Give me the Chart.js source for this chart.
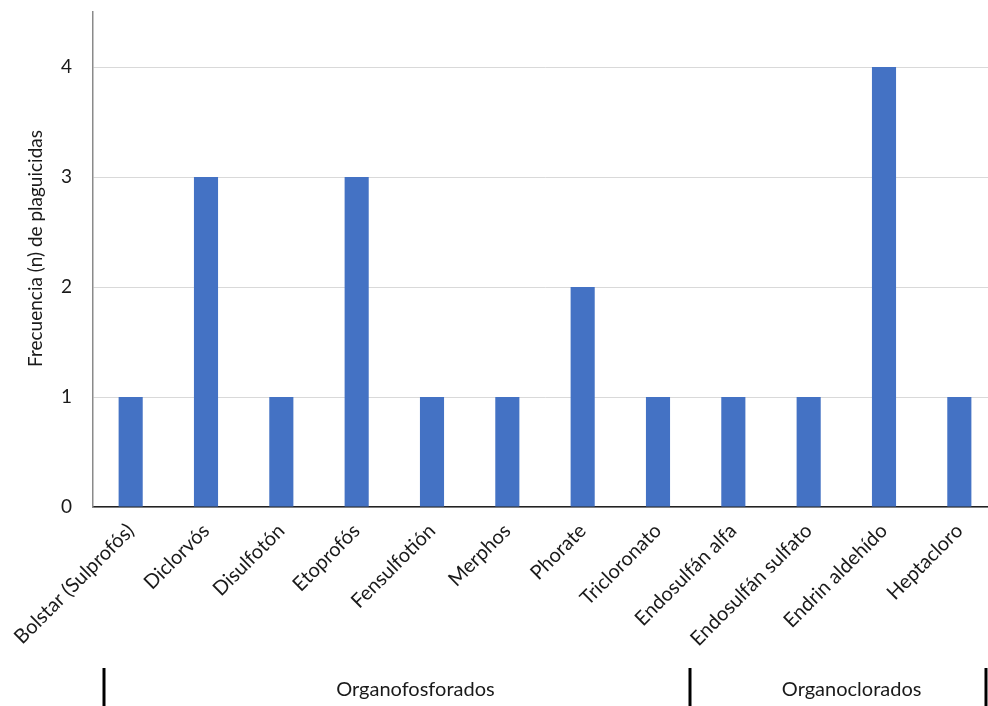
<!DOCTYPE html>
<html>
<head>
<meta charset="utf-8">
<script src="https://cdn.jsdelivr.net/npm/chart.js@4.4.1/dist/chart.umd.min.js"></script>
<style>
    html, body { margin: 0; padding: 0; overflow: hidden; background: #fff; }
    #wrap { width: 1000px; height: 706px; position: relative; }
</style>
</head>
<body>
<div id="wrap"><canvas id="Plaguicidas"></canvas></div>
<script>
const categories = [
    'Bolstar (Sulprofós)', 'Diclorvós', 'Disulfotón', 'Etoprofós', 'Fensulfotión', 'Merphos',
    'Phorate', 'Tricloronato', 'Endosulfán alfa', 'Endosulfán sulfato', 'Endrin aldehído', 'Heptacloro'
];
const frecuencia = [1, 3, 1, 3, 1, 1, 2, 1, 1, 1, 4, 1];
const yTicks = [0, 1, 2, 3, 4];
const yTitle = 'Frecuencia (n) de plaguicidas';
const groupNames = ['Organofosforados', 'Organoclorados'];
const groupSizes = [8, 4];

const FONT = 'Lato, "Open Sans", sans-serif';
const TEXT = '#1a1a1a';

// draws the y title and the second level of the category axis (group names + separators)
const groupAxis = {
    id: 'groupAxis',
    afterDraw(chart) {
        const ctx = chart.ctx;
        const x = chart.scales.x;
        const area = chart.chartArea;
        const bottom = area.bottom;

        ctx.save();
        ctx.fillStyle = TEXT;
        ctx.font = '19px ' + FONT;
        ctx.textAlign = 'center';
        ctx.textBaseline = 'middle';
        ctx.translate(36, (area.top + area.bottom) / 2 - 11);
        ctx.rotate(-Math.PI / 2);
        ctx.fillText(yTitle, 0, 0);
        ctx.restore();

        // separators sit a bit inside the category edges, like the original
        const edges = [-0.35];
        let n = 0;
        for (let i = 0; i < groupSizes.length; i++) {
            n += groupSizes[i];
            edges.push(n - 0.57 + (i === groupSizes.length - 1 ? -0.08 : 0));
        }
        ctx.save();
        ctx.strokeStyle = '#000';
        ctx.lineWidth = 3;
        for (const e of edges) {
            const px = Math.round(x.getPixelForValue(e));
            ctx.beginPath();
            ctx.moveTo(px, bottom + 161);
            ctx.lineTo(px, bottom + 200);
            ctx.stroke();
        }
        ctx.fillStyle = TEXT;
        ctx.font = '20px ' + FONT;
        ctx.textAlign = 'center';
        ctx.textBaseline = 'middle';
        const centers = [3.78, 9.57];
        for (let i = 0; i < groupNames.length; i++) {
            ctx.fillText(groupNames[i], x.getPixelForValue(centers[i]), bottom + 183);
        }
        ctx.restore();
    }
};

new Chart(document.getElementById('Plaguicidas'), {
    type: 'bar',
    data: {
        labels: categories,
        datasets: [{
            label: 'Frecuencia',
            data: frecuencia,
            backgroundColor: '#4472C4',
            categoryPercentage: 1,
            barPercentage: 0.32,
        }]
    },
    plugins: [groupAxis],
    options: {
        responsive: true,
        maintainAspectRatio: false,
        animation: false,
        layout: {
            padding: {left: 0, right: 3, top: 12, bottom: 0}
        },
        scales: {
            x: {
                grid: {display: false, drawTicks: false},
                border: {display: true, color: '#222', width: 1.5},
                ticks: {
                    color: TEXT,
                    font: {family: FONT, size: 20},
                    minRotation: 45,
                    maxRotation: 45,
                    autoSkip: false,
                    padding: 12,
                },
                afterFit: (scale) => {
                    scale.height = 199;
                    scale.paddingLeft = 0;
                    scale.paddingRight = 0;
                }
            },
            y: {
                min: 0,
                max: 4.5,
                grid: {color: '#d9d9d9', lineWidth: 1, drawTicks: false},
                border: {display: true, color: '#8a8a8a', width: 1.5},
                ticks: {
                    stepSize: 1,
                    color: TEXT,
                    font: {family: FONT, size: 19},
                    padding: 21,
                },
                afterBuildTicks: (scale) => {
                    scale.ticks = yTicks.map(v => ({value: v}));
                },
                afterFit: (scale) => {
                    scale.width = 93;
                    scale.paddingTop = 0;
                    scale.paddingBottom = 0;
                },
                title: {display: false}
            }
        },
        plugins: {
            legend: {display: false},
            tooltip: {enabled: false},
        }
    }
});
</script>
</body>
</html>
